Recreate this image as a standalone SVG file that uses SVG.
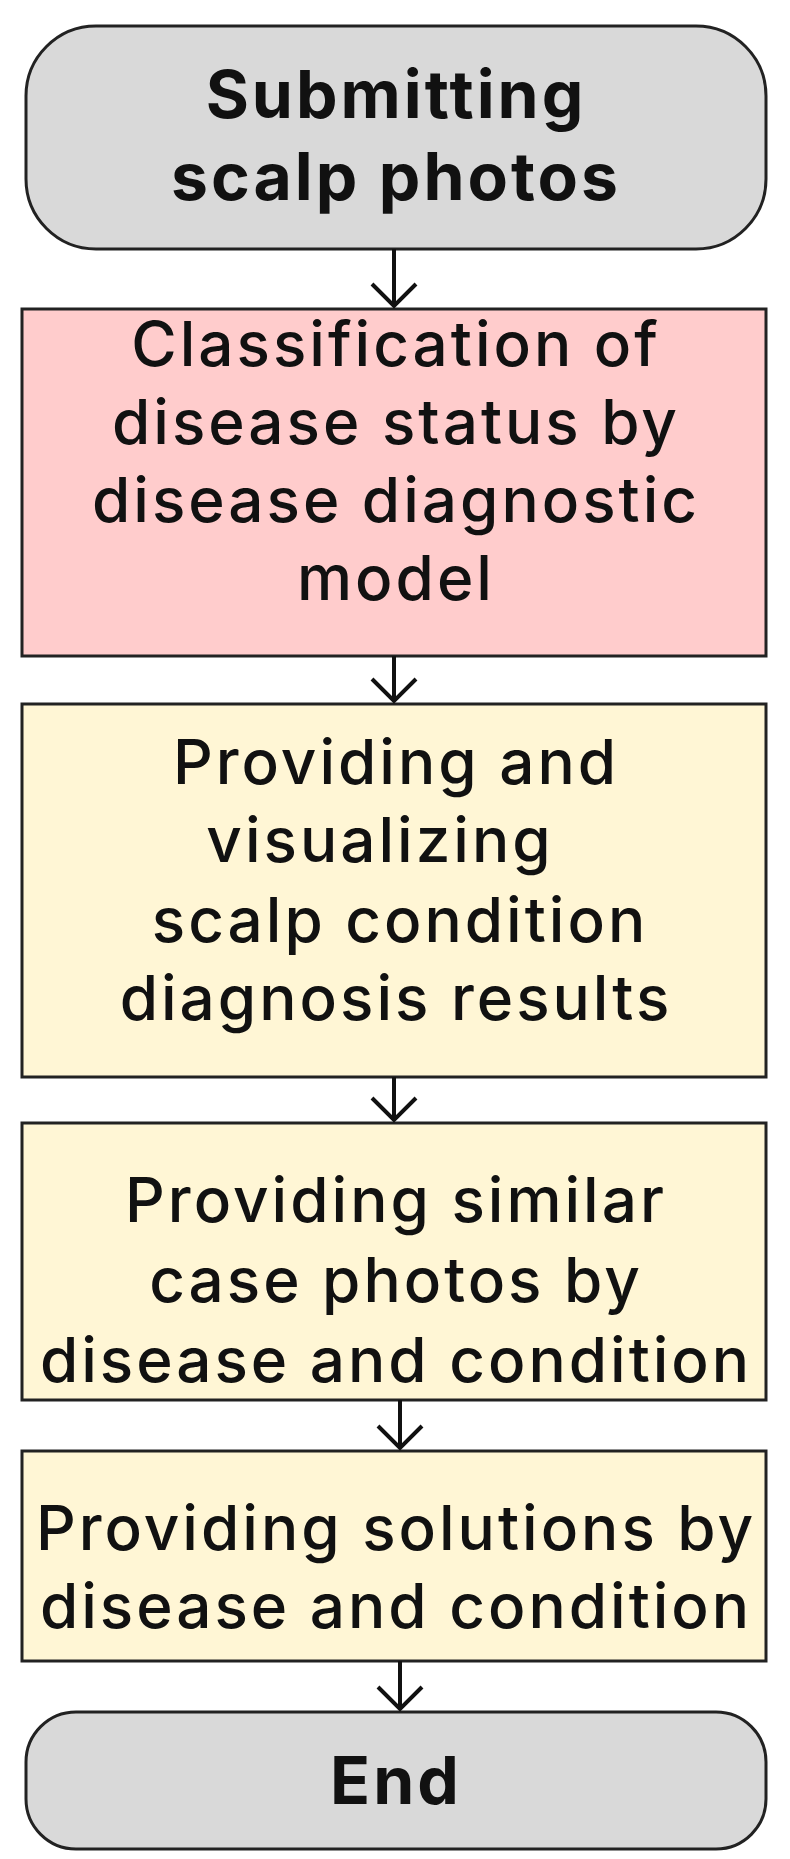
<svg xmlns="http://www.w3.org/2000/svg" width="790" height="1859" viewBox="0 0 790 1859">
<style>
.t{font-family:Inter,"Liberation Sans",sans-serif;font-size:62px;font-weight:500;text-anchor:middle;fill:#111;letter-spacing:3px}
.b{font-weight:bold;font-size:66px}
.term{fill:#d9d9d9;stroke:#222;stroke-width:3}
.y{fill:#fff6d5;stroke:#222;stroke-width:3}
.p{fill:#ffcccc;stroke:#222;stroke-width:3}
.c{stroke:#111;stroke-width:4;fill:none}
</style>
<rect width="790" height="1859" fill="#fff"/>
<g id="start"><rect class="term" x="26" y="26" width="740" height="223" rx="70"/>
<text class="t b" x="396" y="118">Submitting</text><text class="t b" x="396" y="200">scalp photos</text></g>
<g id="classify"><rect class="p" x="22" y="309" width="744" height="347"/>
<text class="t" x="396" y="366">Classification of</text><text class="t" x="396" y="444">disease status by</text><text class="t" x="396" y="522">disease diagnostic</text><text class="t" x="396" y="600">model</text></g>
<g id="visualize"><rect class="y" x="22" y="704" width="744" height="373"/>
<text class="t" x="396" y="784">Providing and</text><text class="t" x="380" y="862">visualizing</text><text class="t" x="400" y="942">scalp condition</text><text class="t" x="396" y="1020">diagnosis results</text></g>
<g id="similar"><rect class="y" x="22" y="1123" width="744" height="277"/>
<text class="t" x="396" y="1222">Providing similar</text><text class="t" x="396" y="1302">case photos by</text><text class="t" x="396" y="1382">disease and condition</text></g>
<g id="solutions"><rect class="y" x="22" y="1451" width="744" height="210"/>
<text class="t" x="396" y="1550">Providing solutions by</text><text class="t" x="396" y="1628">disease and condition</text></g>
<g id="end"><rect class="term" x="26" y="1712" width="740" height="137" rx="50"/>
<text class="t b" x="396" y="1804">End</text></g>
<g id="connectors">
<path class="c" d="M394 249V306M372 284L394 306L416 284"/>
<path class="c" d="M394 656V701M372 679L394 701L416 679"/>
<path class="c" d="M394 1077V1120M372 1098L394 1120L416 1098"/>
<path class="c" d="M400 1400V1448M378 1426L400 1448L422 1426"/>
<path class="c" d="M400 1661V1709M378 1687L400 1709L422 1687"/>
</g>
</svg>
